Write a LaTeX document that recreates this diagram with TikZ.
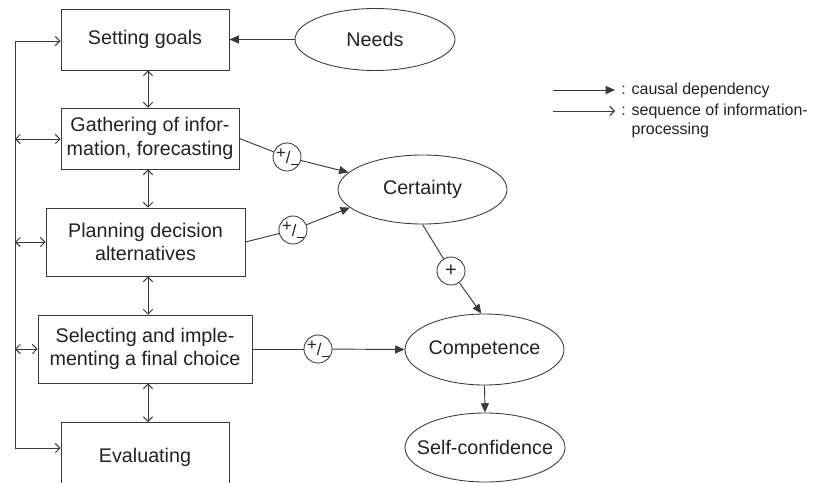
\documentclass[tikz,border=0pt]{standalone}
\usepackage{fontspec}
\setmainfont{Liberation Sans}
\usetikzlibrary{arrows.meta,shapes.geometric}
\definecolor{ln}{HTML}{3A3A3A}
\definecolor{tx}{HTML}{222222}
\begin{document}
\begin{tikzpicture}[x=0.75pt,y=-0.75pt,
  every node/.style={text=tx},
  box/.style={draw=ln,line width=0.65pt,rectangle,align=center,inner sep=0pt,font=\fontsize{14.8}{17.5}\selectfont},
  oval/.style={draw=ln,line width=0.65pt,ellipse,inner sep=0pt,font=\fontsize{14.8}{17.5}\selectfont},
  sign/.style={draw=ln,line width=0.65pt,circle,inner sep=0pt,minimum size=21pt,font=\fontsize{12.5}{13}\selectfont},
  link/.style={draw=ln,line width=0.7pt},
  seq/.style={link,-{Straight Barb[length=3.5pt,width=7pt]}},
  seqboth/.style={link,{Straight Barb[length=3.5pt,width=7pt]}-{Straight Barb[length=3.5pt,width=7pt]}},
  cause/.style={link,-{Triangle[length=7pt,width=6pt]}},
  legtext/.style={font=\fontsize{12}{14}\selectfont,align=left,anchor=west,inner sep=0pt}
]
\useasboundingbox (0,0) rectangle (816,482);
\clip (0,0) rectangle (816,482);

% process boxes
\node[box,minimum width=126pt,minimum height=45.75pt] (goals) at (145,39.5) {Setting goals};
\node[box,minimum width=133.5pt,minimum height=45.75pt] (gath) at (150,138.5) {Gathering of infor-\\mation, forecasting};
\node[box,minimum width=149.25pt,minimum height=51pt] (plan) at (145.5,242) {Planning decision\\alternatives};
\node[box,minimum width=160.5pt,minimum height=51pt] (sel) at (145,349) {Selecting and imple-\\menting a final choice};
\node[box,minimum width=126pt,minimum height=55pt,anchor=north] (eval) at (145,422) {\raisebox{5pt}{Evaluating}};

% ellipses
\node[oval,minimum width=120pt,minimum height=46.5pt] (needs) at (375,39.5) {\makebox[0pt]{Needs}};
\node[oval,minimum width=126.75pt,minimum height=51.75pt] (cert) at (422.5,189.5) {\makebox[0pt]{Certainty}};
\node[oval,minimum width=119.25pt,minimum height=53.25pt] (comp) at (484.5,349.5) {\makebox[0pt]{Competence}};
\node[oval,minimum width=120pt,minimum height=51.75pt] (selfc) at (485,447.5) {\makebox[0pt]{Self-confidence}};

% sign circles
\newcommand{\pmsign}{\raisebox{3pt}{+}\raisebox{-1.2pt}{/}\rule[-2.2pt]{5.5pt}{0.6pt}}
\node[sign] (pm1) at (287,157) {\pmsign};
\node[sign] (pm2) at (293,230) {\pmsign};
\node[sign] (pm3) at (318,349) {\pmsign};
\node[sign,font=\fontsize{15}{15}\selectfont] (plus) at (451,271) {+};

% left feedback line
\coordinate (L1) at (15,41);
\coordinate (L2) at (15,139);
\coordinate (L3) at (15,242);
\coordinate (L4) at (15,349);
\coordinate (L5) at (15,448);
\draw[link] (L1) -- (L5);
\draw[seq] (L1) -- (L1 -| goals.west);
\draw[seqboth] (L2) -- (L2 -| gath.west);
\draw[seqboth] (L3) -- (L3 -| plan.west);
\draw[seqboth] (L4) -- (L4 -| sel.west);
\draw[seq] (L5) -- (L5 -| eval.west);

% vertical sequence arrows
\coordinate (vx) at (148,0);
\draw[seqboth] (goals.south -| vx) -- (gath.north -| vx);
\draw[seqboth] (gath.south -| vx) -- (plan.north -| vx);
\draw[seqboth] (plan.south -| vx) -- (sel.north -| vx);
\draw[seqboth] (sel.south -| vx) -- (eval.north -| vx);

% causal links
\draw[cause] (needs) -- (goals.east);
\draw[link] (gath.east) -- (pm1);
\draw[cause] (pm1) -- (cert.167);
\draw[link] (plan.east) -- (pm2);
\draw[cause] (pm2) -- (cert.194);
\draw[link] (cert.south) -- (plus);
\draw[cause] (plus) -- (comp.95);
\draw[link] (sel.east) -- (pm3);
\draw[cause] (pm3) -- (comp.west);
\draw[cause] (comp.south) -- (selfc.north);

% legend
\coordinate (a1) at (553,90);
\coordinate (b1) at (615,90);
\coordinate (a2) at (553,111);
\coordinate (b2) at (615,111);
\draw[cause] (a1) -- (b1);
\draw[seq] (a2) -- (b2);
\node[legtext] (lt1) at (621,90) {: causal dependency};
\node[legtext,anchor=north west] (lt2) at (621,104) {: sequence of information-\\\phantom{: }processing};
\end{tikzpicture}
\end{document}
